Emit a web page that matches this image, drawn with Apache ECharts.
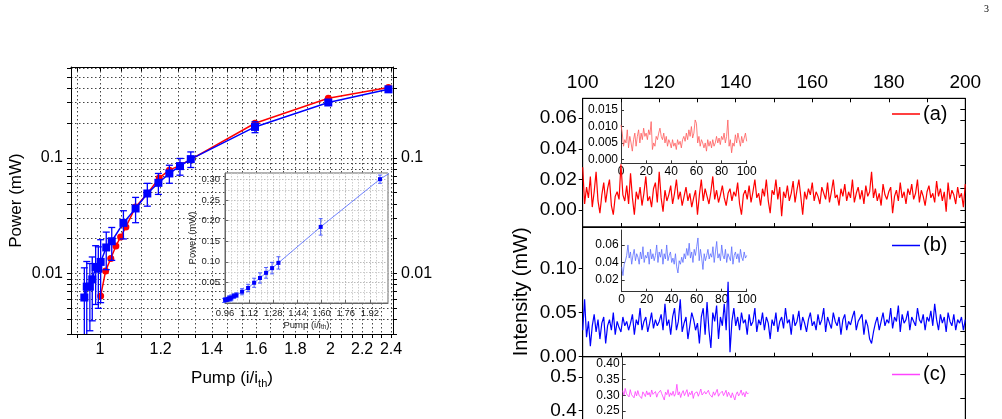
<!DOCTYPE html>
<html>
<head>
<meta charset="utf-8">
<script src="https://cdn.jsdelivr.net/npm/echarts@6/dist/echarts.min.js"></script>
<style>
  html, body { margin: 0; padding: 0; background: #fff; }
  #chart { width: 1002px; height: 419px; }
</style>
</head>
<body>
<div id="chart"></div>
<script>
// ---- left plot: output power vs pump (log-log) ----
const redPump = [1.002, 1.017, 1.033, 1.049, 1.064, 1.081, 1.113, 1.153, 1.195, 1.232, 1.272, 1.314, 1.594, 1.987, 2.381];
const redPower = [0.0064, 0.0105, 0.0135, 0.0173, 0.0207, 0.0253, 0.0376, 0.049, 0.0671, 0.0783, 0.086, 0.097, 0.199, 0.327, 0.406];

const bluePump = [0.954, 0.961, 0.970, 0.977, 0.987, 0.995, 1.002, 1.019, 1.036, 1.073, 1.113, 1.153, 1.192, 1.232, 1.272, 1.314, 1.594, 1.987, 2.381];
const bluePower = [0.0062, 0.0077, 0.0077, 0.0089, 0.0114, 0.0110, 0.0126, 0.0168, 0.0190, 0.0274, 0.0365, 0.0492, 0.0608, 0.0733, 0.0848, 0.0975, 0.185, 0.301, 0.391];
const blueErr = [0.005, 0.005, 0.0045, 0.005, 0.006, 0.006, 0.007, 0.006, 0.006, 0.0075, 0.009, 0.011, 0.0125, 0.013, 0.014, 0.015, 0.02, 0.01, 0.01];

const pumpLabels = [1, 1.2, 1.4, 1.6, 1.8, 2, 2.2, 2.4];
const powerLabels = [0.01, 0.1];
const powerTicks = [0.003, 0.004, 0.005, 0.006, 0.007, 0.008, 0.009, 0.01, 0.02, 0.03, 0.04, 0.05, 0.06, 0.07, 0.08, 0.09, 0.1, 0.2, 0.3, 0.4, 0.5, 0.6];

// ---- right plot: intensity time traces ----
const traceA = [
  0.028, 0.004, 0.015, 0.008, 0.022, 0.002, 0.012, 0.025, 0.006, -0.002, 0.010, 0.018, 0.005, 0.014, 0.020, 0.003, -0.003, 0.009, 0.012, 0.007, 0.030,
  0.010, 0.006, 0.016, 0.004, 0.024, 0.008, -0.003, 0.012, 0.007, 0.015, 0.003, 0.011, 0.022, 0.006, 0.009, 0.002, 0.014, 0.018, 0.005, 0.025,
  0.008, -0.001, 0.013, 0.006, 0.010, 0.016, 0.004, 0.011, 0.020, 0.007, 0.012, 0.003, 0.009, 0.015, 0.006, 0.011, 0.002, 0.008, 0.013, -0.003,
  0.010, 0.020, 0.006, 0.014, 0.009, 0.004, 0.012, 0.022, 0.007, 0.013, 0.005, 0.010, 0.016, 0.008, 0.003, 0.011, 0.014, 0.006, 0.012, 0.009,
  0.018, 0.004, -0.003, 0.010, 0.013, 0.007, 0.016, 0.005, 0.012, 0.020, 0.008, 0.011, 0.003, 0.014, 0.009, 0.020, 0.006, -0.002, 0.013, 0.010,
  0.020, 0.007, 0.015, -0.004, 0.012, 0.008, 0.016, 0.006, 0.011, 0.019, 0.005, 0.013, 0.020, 0.009, -0.003, 0.012, 0.007, 0.014, 0.010, 0.018,
  0.006, 0.012, 0.009, 0.004, 0.015, 0.011, 0.007, 0.018, 0.005, 0.012, 0.020, 0.008, 0.010, 0.003, 0.014, 0.009, 0.017, 0.006, 0.012, 0.008,
  0.020, 0.005, 0.011, 0.015, 0.007, 0.013, 0.004, 0.016, 0.009, 0.012, 0.025, 0.008, 0.014, 0.006, 0.011, 0.003, 0.017, 0.010, 0.007, 0.012,
  0.015, -0.002, 0.009, 0.013, 0.006, 0.018, 0.008, 0.012, 0.004, 0.014, 0.010, 0.017, 0.007, 0.011, 0.020, 0.005, 0.013, 0.009, 0.003, 0.012,
  0.016, 0.008, 0.011, 0.005, 0.019, 0.009, 0.014, 0.006, 0.012, -0.001, 0.018, 0.007, 0.013, 0.010, 0.004, 0.015, 0.008, 0.011, 0.002, 0.017
];
const traceB = [
  0.030, 0.065, 0.022, 0.040, 0.012, 0.035, 0.048, 0.028, 0.042, 0.020, 0.038, 0.045, 0.015, 0.035, 0.042, 0.030, 0.050, 0.025, 0.040, 0.033, 0.028,
  0.045, 0.035, 0.040, 0.030, 0.038, 0.048, 0.025, 0.042, 0.036, 0.055, 0.030, 0.040, 0.045, 0.028, 0.038, 0.050, 0.032, 0.042, 0.035, 0.040,
  0.048, 0.030, 0.060, 0.035, 0.042, 0.025, 0.045, 0.055, 0.030, 0.040, 0.065, 0.028, 0.038, 0.045, 0.020, 0.035, 0.050, 0.042, 0.030, 0.038,
  0.015, 0.045, 0.055, 0.025, 0.062, 0.030, 0.010, 0.050, 0.040, 0.058, 0.020, 0.045, 0.035, 0.060, 0.030, 0.085, 0.005, 0.040, 0.055, 0.035,
  0.045, 0.030, 0.050, 0.038, 0.042, 0.025, 0.048, 0.035, 0.040, 0.055, 0.028, 0.042, 0.036, 0.050, 0.030, 0.045, 0.038, 0.020, 0.042, 0.035,
  0.050, 0.028, 0.040, 0.045, 0.032, 0.055, 0.038, 0.042, 0.025, 0.048, 0.035, 0.040, 0.052, 0.030, 0.045, 0.038, 0.028, 0.042, 0.050, 0.035,
  0.040, 0.030, 0.048, 0.036, 0.042, 0.055, 0.028, 0.045, 0.038, 0.032, 0.050, 0.040, 0.035, 0.045, 0.025, 0.042, 0.048, 0.030, 0.040, 0.036,
  0.045, 0.052, 0.030, 0.040, 0.038, 0.048, 0.025, 0.042, 0.035, 0.020, 0.015, 0.028, 0.038, 0.045, 0.030, 0.040, 0.050, 0.035, 0.042, 0.038,
  0.055, 0.032, 0.045, 0.040, 0.058, 0.028, 0.048, 0.038, 0.042, 0.052, 0.030, 0.045, 0.040, 0.035, 0.055, 0.042, 0.038, 0.048, 0.030, 0.045,
  0.040, 0.052, 0.035, 0.060, 0.042, 0.030, 0.048, 0.038, 0.045, 0.028, 0.050, 0.040, 0.035, 0.048, 0.030, 0.042, 0.038, 0.045, 0.030, 0.042
];
const traceC = []; // lies below the visible window

const insetA = [
  0.0105, 0.008, 0.004, 0.006, 0.005, 0.009, 0.0035, 0.007, 0.005, 0.0025, 0.006,
  0.008, 0.004, 0.007, 0.009, 0.005, 0.008, 0.006, 0.0095, 0.007, 0.008,
  0.006, 0.009, 0.0075, 0.0115, 0.003, 0.005, 0.004, 0.007, 0.006, 0.008,
  0.0095, 0.007, 0.006, 0.008, 0.005, 0.007, 0.004, 0.006, 0.005, 0.0035,
  0.006, 0.004, 0.005, 0.003, 0.006, 0.0045, 0.0055, 0.0035, 0.006, 0.007,
  0.0055, 0.008, 0.006, 0.009, 0.007, 0.010, 0.0065, 0.008, 0.012, 0.011,
  0.005, 0.007, 0.004, 0.006, 0.005, 0.0035, 0.005, 0.0025, 0.006, 0.004,
  0.0055, 0.0035, 0.006, 0.004, 0.005, 0.007, 0.005, 0.0065, 0.0045, 0.007,
  0.006, 0.008, 0.005, 0.007, 0.012, 0.004, 0.006, 0.002, 0.005, 0.004,
  0.0075, 0.005, 0.008, 0.006, 0.004, 0.007, 0.005, 0.0065, 0.008, 0.0055
];
const insetB = [
  0.035, 0.025, 0.038, 0.042, 0.048, 0.060, 0.045, 0.052, 0.038, 0.048, 0.055,
  0.042, 0.050, 0.046, 0.038, 0.052, 0.044, 0.058, 0.040, 0.048, 0.045,
  0.052, 0.038, 0.055, 0.044, 0.050, 0.042, 0.048, 0.060, 0.040, 0.052,
  0.046, 0.055, 0.038, 0.050, 0.044, 0.060, 0.042, 0.048, 0.052, 0.040,
  0.045, 0.038, 0.050, 0.035, 0.028, 0.042, 0.038, 0.046, 0.040, 0.050,
  0.044, 0.056, 0.048, 0.062, 0.045, 0.052, 0.040, 0.055, 0.048, 0.058,
  0.068, 0.042, 0.055, 0.045, 0.032, 0.050, 0.042, 0.048, 0.055, 0.044,
  0.050, 0.046, 0.058, 0.040, 0.052, 0.064, 0.045, 0.050, 0.042, 0.060,
  0.048, 0.044, 0.055, 0.040, 0.050, 0.046, 0.042, 0.058, 0.038, 0.048,
  0.052, 0.044, 0.050, 0.040, 0.055, 0.046, 0.042, 0.052, 0.045, 0.048
];
const insetC = [
  0.315, 0.300, 0.322, 0.305, 0.310, 0.295, 0.318, 0.302, 0.308, 0.292, 0.312,
  0.298, 0.315, 0.300, 0.306, 0.290, 0.311, 0.304, 0.296, 0.314, 0.301,
  0.309, 0.295, 0.317, 0.303, 0.298, 0.312, 0.294, 0.306, 0.300, 0.316,
  0.305, 0.299, 0.285, 0.310, 0.302, 0.318, 0.296, 0.308, 0.300, 0.313,
  0.297, 0.306, 0.335, 0.301, 0.311, 0.293, 0.307, 0.315, 0.299, 0.304,
  0.318, 0.296, 0.309, 0.302, 0.314, 0.290, 0.306, 0.300, 0.311, 0.297,
  0.308, 0.320, 0.301, 0.295, 0.312, 0.304, 0.298, 0.316, 0.303, 0.309,
  0.294, 0.311, 0.300, 0.306, 0.319, 0.297, 0.305, 0.302, 0.313, 0.299,
  0.307, 0.316, 0.296, 0.310, 0.301, 0.292, 0.308, 0.314, 0.285, 0.303,
  0.311, 0.298, 0.306, 0.317, 0.300, 0.309, 0.295, 0.312, 0.304, 0.308
];
const timeStart = 100, timeStep = 0.5;   // main traces: 100..200
const insetStep = 1;                       // insets: 0..100

const FONT = 'Liberation Sans, Arial, sans-serif';

// tick grid for the log pump axis: 3 steps per 0.2
const pumpTicks = [];
for (let k = 14; k <= 36; k++) pumpTicks.push(k / 15);

const toPairs = (xs, ys) => xs.map((x, i) => [x, ys[i]]);
const timed = (ys, t0, dt) => ys.map((y, i) => [t0 + i * dt, y]);

function errBars(color, cap, width) {
  return function (params, api) {
    const x = api.value(0), y = api.value(1), e = api.value(2);
    const cs = params.coordSys;
    const hi = api.coord([x, y + e]);
    const lo = api.coord([x, y - e > 0 ? y - e : 1e-6]);
    if (hi[0] < cs.x - 1 || hi[0] > cs.x + cs.width + 1) return null;
    const bottom = cs.y + cs.height;
    const st = { stroke: color, lineWidth: width };
    const kids = [
      { type: 'line', shape: { x1: hi[0], y1: Math.max(hi[1], cs.y), x2: hi[0], y2: Math.min(lo[1], bottom) }, style: st },
    ];
    if (hi[1] >= cs.y) kids.push({ type: 'line', shape: { x1: hi[0] - cap, y1: hi[1], x2: hi[0] + cap, y2: hi[1] }, style: st });
    if (lo[1] <= bottom) kids.push({ type: 'line', shape: { x1: lo[0] - cap, y1: lo[1], x2: lo[0] + cap, y2: lo[1] }, style: st });
    return { type: 'group', children: kids };
  };
}

const black = { color: '#000', width: 1 };
const dotted = { show: true, lineStyle: { color: '#444', width: 1, type: [1.5, 2.5] } };
const fmtPump = v => String(Math.round(v * 10) / 10);
const fixed = n => v => v.toFixed(n);

function frameAxis(extra) {
  return Object.assign({
    axisLine: { show: true, onZero: false, lineStyle: black },
    splitLine: { show: false },
    axisLabel: { show: false },
    axisTick: { show: true, inside: true, length: 4, lineStyle: black }
  }, extra);
}

const chart = echarts.init(document.getElementById('chart'));

chart.setOption({
  animation: false,
  textStyle: { fontFamily: FONT },
  grid: [
    { left: 71, top: 67, width: 322, height: 267, outerBoundsMode: 'none' },
    { left: 225, top: 173, width: 163, height: 130, show: true, backgroundColor: '#fff', borderColor: '#666', borderWidth: 1, z: 10, outerBoundsMode: 'none' },
    { left: 582.7, top: 98.3, width: 382.6, height: 128.7, show: true, borderColor: '#000', borderWidth: 1, outerBoundsMode: 'none' },
    { left: 582.7, top: 227, width: 382.6, height: 129.7, show: true, borderColor: '#000', borderWidth: 1, outerBoundsMode: 'none' },
    { left: 582.7, top: 356.7, width: 382.6, height: 121.3, show: true, borderColor: '#000', borderWidth: 1, outerBoundsMode: 'none' },
    { left: 621, top: 98.3, width: 125.7, height: 65, outerBoundsMode: 'none' },
    { left: 621.7, top: 230, width: 125, height: 61.7, outerBoundsMode: 'none' },
    { left: 622.7, top: 357, width: 126, height: 65, outerBoundsMode: 'none' }
  ],
  xAxis: [
    // 0 left main bottom
    {
      type: 'log', gridIndex: 0, position: 'bottom', min: 0.9165, max: 2.414,
      axisLine: { show: true, onZero: false, lineStyle: black },
      axisTick: { show: true, inside: false, length: 4, customValues: pumpTicks, lineStyle: black },
      axisLabel: { customValues: pumpLabels, formatter: fmtPump, fontSize: 16, color: '#000', margin: 8, hideOverlap: false },
      splitLine: dotted,
      name: 'Pump (i/i{s|th})', nameLocation: 'middle', nameGap: 34,
      nameTextStyle: { fontSize: 17, color: '#000', rich: { s: { fontSize: 11, padding: [10, 0, 0, 0] } } }
    },
    // 1 left main top
    frameAxis({ type: 'log', gridIndex: 0, position: 'top', min: 0.9165, max: 2.414,
      axisTick: { show: true, inside: true, length: 4, customValues: pumpTicks, lineStyle: black } }),
    // 2 left inset
    {
      type: 'value', gridIndex: 1, min: 0.96, max: 2.04, interval: 0.16, z: 11,
      axisLine: { show: true, onZero: false, lineStyle: { color: '#666' } },
      axisTick: { show: true, inside: true, length: 3, lineStyle: { color: '#666' } },
      axisLabel: { formatter: fixed(2), fontSize: 9.5, color: '#222', margin: 5, showMaxLabel: false },
      minorTick: { show: false, splitNumber: 4 },
      splitLine: { show: true, lineStyle: { color: '#bbb', type: [1.5, 1.5] } },
      minorSplitLine: { show: true, lineStyle: { color: '#ccc', type: [1.5, 1.5] } },
      name: 'Pump (i/i{s|th})', nameLocation: 'middle', nameGap: 16,
      nameTextStyle: { fontSize: 9.5, color: '#222', rich: { s: { fontSize: 6.5, padding: [5, 0, 0, 0] } } }
    },
    // 3 panel a top (labelled)
    frameAxis({ type: 'value', gridIndex: 2, position: 'top', min: 100, max: 200, interval: 10,
      axisLabel: { show: true, formatter: v => (v % 20 === 0 ? String(v) : ''), fontSize: 19, color: '#000', margin: 6 } }),
    // 4 panel a bottom
    frameAxis({ type: 'value', gridIndex: 2, position: 'bottom', min: 100, max: 200, interval: 10 }),
    // 5 panel b bottom
    frameAxis({ type: 'value', gridIndex: 3, position: 'bottom', min: 100, max: 200, interval: 10 }),
    // 6 panel c bottom
    frameAxis({ type: 'value', gridIndex: 4, position: 'bottom', min: 100, max: 200, interval: 10 }),
    // 7..9 insets of the right panels
    {
      type: 'value', gridIndex: 5, min: 0, max: 100, interval: 20,
      axisLine: { show: true, onZero: false, lineStyle: { color: '#333' } },
      axisTick: { show: true, inside: true, length: 3, lineStyle: { color: '#333' } },
      axisLabel: { fontSize: 12, color: '#000', margin: 2 }, splitLine: { show: false }
    },
    {
      type: 'value', gridIndex: 6, min: 0, max: 100, interval: 20,
      axisLine: { show: true, onZero: false, lineStyle: { color: '#333' } },
      axisTick: { show: true, inside: true, length: 3, lineStyle: { color: '#333' } },
      axisLabel: { fontSize: 12, color: '#000', margin: 2 }, splitLine: { show: false }
    },
    {
      type: 'value', gridIndex: 7, min: 0, max: 100, interval: 20,
      axisLine: { show: true, onZero: false, lineStyle: { color: '#333' } },
      axisTick: { show: true, inside: true, length: 3, lineStyle: { color: '#333' } },
      axisLabel: { fontSize: 12, color: '#000', margin: 2 }, splitLine: { show: false }
    }
  ],
  yAxis: [
    // 0 left main
    {
      type: 'log', gridIndex: 0, position: 'left', min: 0.003, max: 0.61,
      axisLine: { show: true, onZero: false, lineStyle: black },
      axisTick: { show: true, inside: false, length: 4, customValues: powerTicks, lineStyle: black },
      axisLabel: { customValues: powerLabels, formatter: v => String(+v.toPrecision(2)), fontSize: 16, color: '#000', margin: 8 },
      splitLine: dotted,
      name: 'Power (mW)', nameLocation: 'middle', nameGap: 46,
      nameTextStyle: { fontSize: 17, color: '#000' }
    },
    // 1 left main right
    {
      type: 'log', gridIndex: 0, position: 'right', min: 0.003, max: 0.61,
      axisLine: { show: true, onZero: false, lineStyle: black },
      axisTick: { show: true, inside: false, length: 4, customValues: powerTicks, lineStyle: black },
      axisLabel: { customValues: powerLabels, formatter: v => String(+v.toPrecision(2)), fontSize: 16, color: '#000', margin: 8 },
      splitLine: { show: false }
    },
    // 2 left inset
    {
      type: 'value', gridIndex: 1, min: 0, max: 0.316, interval: 0.05, z: 11,
      axisLine: { show: true, onZero: false, lineStyle: { color: '#666' } },
      axisTick: { show: true, inside: true, length: 3, lineStyle: { color: '#666' } },
      axisLabel: { formatter: fixed(2), fontSize: 9.5, color: '#222', margin: 5, showMinLabel: false, showMaxLabel: false },
      minorTick: { show: false, splitNumber: 2 },
      splitLine: { show: true, lineStyle: { color: '#bbb', type: [1.5, 1.5] } },
      minorSplitLine: { show: true, lineStyle: { color: '#ccc', type: [1.5, 1.5] } },
      name: 'Power (mW)', nameLocation: 'middle', nameGap: 27,
      nameTextStyle: { fontSize: 9.5, color: '#222' }
    },
    // 3 panel a left
    frameAxis({ type: 'value', gridIndex: 2, position: 'left', min: -0.011, max: 0.073,
      axisTick: { show: true, inside: false, length: 4, customValues: [0, 0.02, 0.04, 0.06], lineStyle: black },
      axisLabel: { show: true, customValues: [0, 0.02, 0.04, 0.06], formatter: fixed(2), fontSize: 19, color: '#000', margin: 6 } }),
    // 4 panel a right
    frameAxis({ type: 'value', gridIndex: 2, position: 'right', min: -0.011, max: 0.073,
      axisTick: { show: true, inside: true, length: 5, customValues: [-0.0077, 0, 0.0146, 0.0293, 0.0437, 0.0584, 0.0656], lineStyle: black } }),
    // 5 panel b left
    frameAxis({ type: 'value', gridIndex: 3, position: 'left', min: 0, max: 0.147,
      axisTick: { show: true, inside: false, length: 4, customValues: [0, 0.05, 0.1], lineStyle: black },
      axisLabel: { show: true, customValues: [0, 0.05, 0.1], formatter: fixed(2), fontSize: 19, color: '#000', margin: 6 },
      name: 'Intensity (mW)', nameLocation: 'middle', nameGap: 51,
      nameTextStyle: { fontSize: 20, color: '#000' } }),
    // 6 panel b right
    frameAxis({ type: 'value', gridIndex: 3, position: 'right', min: 0, max: 0.147,
      axisTick: { show: true, inside: true, length: 5, customValues: [0.0144, 0.0283, 0.0574, 0.0868, 0.117, 0.131], lineStyle: black } }),
    // 7 panel c left
    frameAxis({ type: 'value', gridIndex: 4, position: 'left', min: 0.2, max: 0.56,
      axisTick: { show: true, inside: false, length: 4, customValues: [0.2, 0.3, 0.4, 0.5], lineStyle: black },
      axisLabel: { show: true, customValues: [0.2, 0.3, 0.4, 0.5], formatter: fixed(1), fontSize: 19, color: '#000', margin: 6 } }),
    // 8 panel c right
    frameAxis({ type: 'value', gridIndex: 4, position: 'right', min: 0.2, max: 0.56,
      axisTick: { show: true, inside: true, length: 5, customValues: [0.436, 0.507], lineStyle: black } }),
    // 9..11 insets of the right panels
    {
      type: 'value', gridIndex: 5, min: -0.0012, max: 0.0186,
      axisLine: { show: true, onZero: false, lineStyle: { color: '#333' } },
      axisTick: { show: true, inside: true, length: 3, customValues: [0, 0.005, 0.01, 0.015], lineStyle: { color: '#333' } },
      axisLabel: { customValues: [0, 0.005, 0.01, 0.015], formatter: fixed(3), fontSize: 12, color: '#000', margin: 3 },
      splitLine: { show: false }
    },
    {
      type: 'value', gridIndex: 6, min: 0.0066, max: 0.0771,
      axisLine: { show: true, onZero: false, lineStyle: { color: '#333' } },
      axisTick: { show: true, inside: true, length: 3, customValues: [0.02, 0.04, 0.06], lineStyle: { color: '#333' } },
      axisLabel: { customValues: [0.02, 0.04, 0.06], formatter: fixed(2), fontSize: 12, color: '#000', margin: 3 },
      splitLine: { show: false }
    },
    {
      type: 'value', gridIndex: 7, min: 0.215, max: 0.422,
      axisLine: { show: true, onZero: false, lineStyle: { color: '#333' } },
      axisTick: { show: true, inside: true, length: 3, customValues: [0.25, 0.3, 0.35, 0.4], lineStyle: { color: '#333' } },
      axisLabel: { customValues: [0.25, 0.3, 0.35, 0.4], formatter: fixed(2), fontSize: 12, color: '#000', margin: 3 },
      splitLine: { show: false }
    }
  ],
  legend: [
    { data: ['(a)'], left: 892, top: 104, padding: 0, icon: 'rect', itemWidth: 28, itemHeight: 1.5, itemGap: 0,
      textStyle: { fontSize: 20, color: '#000', padding: [0, 0, 0, -2] } },
    { data: ['(b)'], left: 892, top: 235.5, padding: 0, icon: 'rect', itemWidth: 28, itemHeight: 1.5, itemGap: 0,
      textStyle: { fontSize: 20, color: '#000', padding: [0, 0, 0, -2] } },
    { data: ['(c)'], left: 892, top: 364.5, padding: 0, icon: 'rect', itemWidth: 28, itemHeight: 1.5, itemGap: 0,
      textStyle: { fontSize: 20, color: '#000', padding: [0, 0, 0, -2] } }
  ],
  graphic: [
    { type: 'text', left: 984, top: 4, style: { text: '3', fontSize: 10, fontFamily: 'Liberation Serif', fill: '#000' } }
  ],
  series: [
    {
      name: 'red', type: 'line', xAxisIndex: 0, yAxisIndex: 0, data: toPairs(redPump, redPower),
      symbol: 'circle', symbolSize: 7, color: '#ff0000',
      lineStyle: { color: '#ff0000', width: 1.5 }, itemStyle: { color: '#ff0000' }, z: 2
    },
    {
      name: 'blue', type: 'line', xAxisIndex: 0, yAxisIndex: 0, data: toPairs(bluePump, bluePower),
      symbol: 'rect', symbolSize: 8, color: '#0000ff',
      lineStyle: { color: '#0000ff', width: 1.5 }, itemStyle: { color: '#0000ff' }, z: 3
    },
    {
      name: 'blueErr', type: 'custom', xAxisIndex: 0, yAxisIndex: 0, z: 4,
      data: bluePump.map((p, i) => [p, bluePower[i], blueErr[i]]),
      encode: { x: 0, y: 1 }, renderItem: errBars('#0000ff', 3.5, 1.3)
    },
    {
      name: 'insetBlue', type: 'line', xAxisIndex: 2, yAxisIndex: 2, data: toPairs(bluePump, bluePower),
      symbol: 'rect', symbolSize: 4, color: '#0000ff',
      lineStyle: { color: '#4a62ff', width: 0.8 }, itemStyle: { color: '#0000ff' }, z: 12
    },
    {
      name: 'insetErr', type: 'custom', xAxisIndex: 2, yAxisIndex: 2, z: 12,
      data: bluePump.map((p, i) => [p, bluePower[i], blueErr[i]]),
      encode: { x: 0, y: 1 }, renderItem: errBars('#2a3cff', 2, 0.8)
    },
    {
      name: '(a)', type: 'line', xAxisIndex: 4, yAxisIndex: 3, data: timed(traceA, timeStart, timeStep),
      symbol: 'none', color: '#ff0000', lineStyle: { color: '#ff0000', width: 1.2 }
    },
    {
      name: '(b)', type: 'line', xAxisIndex: 5, yAxisIndex: 5, data: timed(traceB, timeStart, timeStep),
      symbol: 'none', color: '#0000ff', lineStyle: { color: '#0000ff', width: 1.2 }
    },
    {
      name: '(c)', type: 'line', xAxisIndex: 6, yAxisIndex: 7, data: timed(traceC, timeStart, timeStep),
      symbol: 'none', color: '#ff44ff', lineStyle: { color: '#ff44ff', width: 1.2 }
    },
    {
      name: 'insetA', type: 'line', xAxisIndex: 7, yAxisIndex: 9, data: timed(insetA, 0, insetStep),
      symbol: 'none', lineStyle: { color: '#ff5a5a', width: 0.8 }
    },
    {
      name: 'insetB', type: 'line', xAxisIndex: 8, yAxisIndex: 10, data: timed(insetB, 0, insetStep),
      symbol: 'none', lineStyle: { color: '#5a6cff', width: 0.8 }
    },
    {
      name: 'insetC', type: 'line', xAxisIndex: 9, yAxisIndex: 11, data: timed(insetC, 0, insetStep),
      symbol: 'none', lineStyle: { color: '#ff3cff', width: 0.8 }
    }
  ]
});
</script>
</body>
</html>
